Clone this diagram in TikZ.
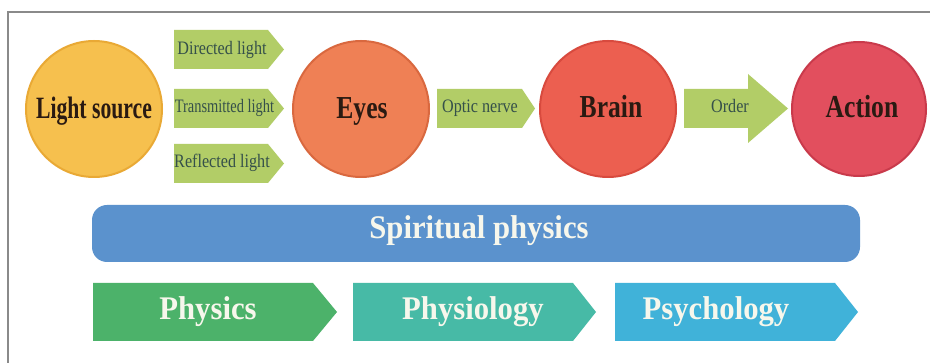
\documentclass[tikz,border=0pt]{standalone}
\usepackage{fontspec}
\setmainfont{Liberation Serif}
\newfontfamily\nrwA[FakeStretch=0.85]{Liberation Serif}
\newfontfamily\nrwT[FakeStretch=0.76]{Liberation Serif}
\newfontfamily\nrwB[FakeStretch=0.8]{Liberation Serif}
\newfontfamily\nrwL[FakeStretch=0.7]{Liberation Serif}
\newfontfamily\nrwE[FakeStretch=0.93]{Liberation Serif}
\definecolor{lsfill}{HTML}{F6C04E}\definecolor{lsdraw}{HTML}{E9A935}
\definecolor{eyfill}{HTML}{EF8055}\definecolor{eydraw}{HTML}{D9683F}
\definecolor{brfill}{HTML}{EC5F50}\definecolor{brdraw}{HTML}{D84A3E}
\definecolor{acfill}{HTML}{E24F5E}\definecolor{acdraw}{HTML}{C93A4B}
\definecolor{lgreen}{HTML}{B2CD67}
\definecolor{sptext}{HTML}{35504A}
\definecolor{cirtext}{HTML}{2A1A12}
\definecolor{barblue}{HTML}{5B92CD}
\definecolor{phyc}{HTML}{4CB26A}
\definecolor{physioc}{HTML}{47BAA6}
\definecolor{psyc}{HTML}{40B2D9}
\definecolor{framec}{HTML}{8A8A8A}
\definecolor{whtext}{HTML}{F7F7EC}
\tikzset{
  circ/.style={circle, line width=2pt, minimum size=136pt, inner sep=0pt},
  cirlabel/.style={anchor=base, text=cirtext, inner sep=0pt, font=\nrwB\bfseries\fontsize{32}{32}\selectfont},
  smalltxt/.style={anchor=base, text=sptext, inner sep=0pt, font=\nrwA\fontsize{19}{19}\selectfont},
  bigtxt/.style={anchor=base, text=whtext, inner sep=0pt, font=\nrwE\bfseries\fontsize{33}{33}\selectfont},
}
\begin{document}
\begin{tikzpicture}[x=1pt,y=-1pt]
\useasboundingbox (0,0) rectangle (930,363);
\fill[white] (0,0) rectangle (930,363);
% frame
\draw[framec, line width=2pt] (8,363) -- (8,12) -- (930,12);
% circles
\node[circ, fill=lsfill, draw=lsdraw] (ls) at (94,109) {};
\node[cirlabel, font=\nrwL\bfseries\fontsize{31}{31}\selectfont] (lstxt) at (94,119) {Light source};
\node[circ, fill=eyfill, draw=eydraw] (eyes) at (361,109) {};
\node[cirlabel] (eyestxt) at (362,119) {Eyes};
\node[circ, fill=brfill, draw=brdraw] (brain) at (608,109) {};
\node[cirlabel] (braintxt) at (611,118) {Brain};
\node[circ, fill=acfill, draw=acdraw, minimum size=134pt] (action) at (859,109) {};
\node[cirlabel] (actiontxt) at (862,118) {Action};
% small green arrows
\fill[lgreen] (174,30) -- (268,30) -- (284,49.5) -- (268,69) -- (174,69) -- cycle;
\node[smalltxt] (dl) at (222,55) {Directed light};
\fill[lgreen] (174,89) -- (268,89) -- (284,108.5) -- (268,128) -- (174,128) -- cycle;
\node[smalltxt, font=\nrwT\fontsize{19}{19}\selectfont] (tl) at (224.5,113) {Transmitted light};
\fill[lgreen] (174,144) -- (268,144) -- (284,163.5) -- (268,183) -- (174,183) -- cycle;
\node[smalltxt] (rl) at (222,168) {Reflected light};
\fill[lgreen] (437,89) -- (522,89) -- (535,108.5) -- (522,128) -- (437,128) -- cycle;
\node[smalltxt] (on) at (480,113) {Optic nerve};
\fill[lgreen] (684,89) -- (748,89) -- (748,74) -- (788,108.5) -- (748,143) -- (748,128) -- (684,128) -- cycle;
\node[smalltxt] (ord) at (730,113) {Order};
% spiritual bar
\fill[barblue, rounded corners=15pt] (92,205) rectangle (860,262);
\node[bigtxt] (sp) at (479,239) {Spiritual physics};
% bottom chevrons
\fill[phyc] (93,283) -- (313,283) -- (337,312) -- (313,341) -- (93,341) -- cycle;
\node[bigtxt] (phy) at (208,319.5) {Physics};
\fill[physioc] (353,283) -- (573,283) -- (596,312) -- (573,341) -- (353,341) -- cycle;
\node[bigtxt] (physio) at (473,319.5) {Physiology};
\fill[psyc] (615,283) -- (835,283) -- (858,312) -- (835,341) -- (615,341) -- cycle;
\node[bigtxt] (psy) at (716,319.5) {Psychology};
\end{tikzpicture}
\end{document}
